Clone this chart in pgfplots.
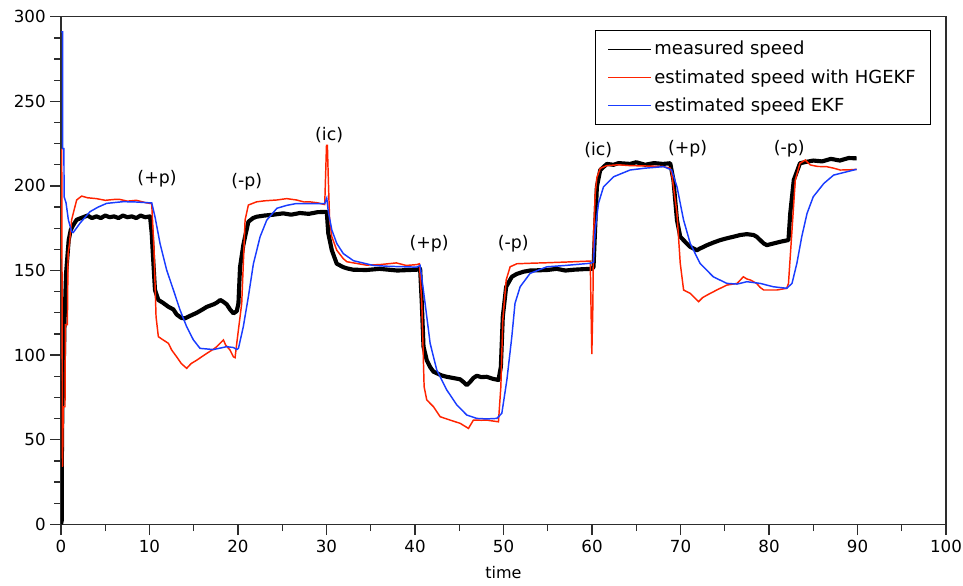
\documentclass[border=0pt]{standalone}
\usepackage{fontspec}
\setmainfont{DejaVu Sans}
\usepackage{pgfplots}
\usepackage{pgfplotstable}
\pgfplotsset{compat=1.18}
\definecolor{myred}{RGB}{255,35,0}
\definecolor{myblue}{RGB}{25,60,255}
\definecolor{axgray}{RGB}{45,45,45}

\pgfplotstableread{
t v
0 0
0.08 2
0.1 40
0.15 69
0.3 90
0.4 120
0.57 148
0.75 160
0.87 168
1.1 174
1.4 177
1.77 180
2.5 181.5
3 182.5
3.5 181
4 182
4.5 181
5 182.5
5.5 181.5
6 182
6.5 181
7 182.5
7.5 181.5
8 182
8.5 181
9 182.5
9.5 181.5
10.06 182
10.25 172
10.4 158
10.62 138.5
11.0 132.6
11.5 131
12.13 128.6
12.7 127
13.07 124
13.6 122
14.0 121.7
14.5 123
15.33 125
16 127
16.46 128.5
17.22 130
17.6 131
18.0 132.6
18.35 131.5
18.73 130
19.1 127
19.48 124.7
19.86 126
20.05 130.6
20.23 152
20.6 165
20.8 170
21.17 178.8
21.7 181
22.1 181.8
23 182.5
24 183
25.1 183.8
26 183
27 184
28 183.5
29 184.5
30.03 184.7
30.2 172
30.6 162
31.16 154
31.9 152
32.3 151.3
33 150.5
34.5 150.3
36 151
38 150
40.2 150.5
40.58 151
40.77 130.6
40.96 105
41.33 97
41.7 93
42.09 90.2
43 88
43.59 87.2
44.3 86.5
45.1 85.7
45.5 84
45.85 82.3
46.2 84
46.6 86.5
46.98 87.8
47.5 87
48.1 87.2
48.8 86
49.43 85.3
49.7 93
49.92 122.7
50.3 140.4
50.94 146.3
51.5 148
52.26 149.3
53 150
54.9 150.3
56 151
57 150
58 150.5
59 150.8
59.98 151
60.17 152
60.36 175.9
60.55 199.5
60.93 209.4
61.68 213
62.43 212.5
63 213.5
64.3 213
65 214
66 212.5
67 213.5
68 213
68.84 213.4
69.2 203.5
69.6 179.8
69.97 170
70.7 166
71.1 164
71.85 162
72.2 163
73.0 165
73.7 166.5
74.5 168
75.2 169
76 170
76.75 171
77.5 171.5
78.25 171
78.6 170
79.0 168
79.4 166
79.76 165
80.5 166
81.27 167
82.2 168
82.4 183.8
82.8 203.5
83.5 213.4
84 214
85.0 215
86 214.5
87 216
88 215
89 216.5
89.9 216.3
}\measured

\pgfplotstableread{
t v
0.08 222
0.17 34
0.26 69.5
0.45 69.5
0.5 118
0.72 118
0.8 160
0.94 165
1.2 180
1.77 191.7
2.33 194
3 193
4 192.5
5 191.5
6 192
6.67 192
7.5 191
8.5 191.5
9.68 190
10.25 189.5
10.51 162
10.74 122.7
11.0 110.9
11.57 108.9
12.13 107
12.51 103
13.07 99
13.6 95
14.2 92.2
14.7 95
15.33 97
16.46 101
17.22 103.5
17.6 105
18.35 109
18.6 106
19.1 103
19.48 99
19.67 98.5
19.86 107
20.05 115
20.42 130.6
20.8 179.8
21.17 188.7
22.1 190.6
23 191.2
24.4 191.7
25.5 192.5
26.6 191.7
27.5 190.5
28.1 190.6
29 190
29.8 189
30.0 224
30.1 224
30.2 205
30.35 180
30.6 170
31.16 162
31.9 157
32.3 155.2
34.5 153.2
36 153.5
37.9 154.5
39 153
40.2 153.5
40.5 154
40.77 130.6
41.03 81.3
41.33 73.5
42.09 69.5
42.84 63.6
43.97 61.6
45.1 59.7
46.04 56.7
46.6 61.6
47.5 61.5
48.1 61.6
49.43 60.6
49.7 81.3
49.92 120.7
50.3 144.4
50.75 152.2
51.5 154
53 154.3
54.9 154.6
57 155
59.8 155.6
59.98 100.6
60.1 130
60.17 170
60.36 195
60.55 205
60.93 210.4
61.68 212
63 212.5
64.3 212
66 211.8
68 211.5
68.84 210.5
69.0 207.4
69.6 183.8
69.97 154.3
70.35 138.5
71.1 136.5
72.04 131.6
72.5 134
73.0 135.5
74.1 138.5
75.24 141.4
76.4 142.4
77.1 146.3
77.5 145
77.9 144.4
78.6 142.4
79.0 140
79.4 138.5
80.9 138.5
82.0 139.5
82.2 142.4
82.6 174
82.97 203.5
83.5 213.4
84.1 215.3
84.66 212.4
85.5 211.5
86.5 211.4
87.3 210.5
88.05 209.4
89 209.5
89.9 209.8
}\hgekf

\pgfplotstableread{
t v
0.05 291
0.18 291
0.19 222
0.33 222
0.35 193.6
0.57 190
0.83 180
1.2 173
1.39 172.5
2.15 178
3.28 184.8
4.2 187.5
5.16 189.7
7.04 190.7
8.5 190.5
10.06 190
10.25 190
10.62 181.8
11.19 166
11.94 150.3
12.7 138.5
13.45 126.7
14.2 116.8
14.96 109
15.71 104
17.22 103.3
18.73 105
19.48 104.5
19.86 103.3
20.05 104
20.6 116.8
21.17 134.5
21.74 154
22.5 170
23.25 179.8
24.4 186.8
25.5 188.5
26.6 189.6
28 189.5
29.8 189.6
30.03 192.8
30.2 185
30.6 174
31.16 166
31.9 160
33.05 155.8
35.3 153
37 152.5
40.2 152
40.58 153
41.14 130.6
41.71 107
42.46 91.2
43.59 79.4
44.72 70.6
45.85 64.6
46.98 62.6
48.1 62.3
49.25 62.6
49.81 65.6
50.38 85.3
50.94 110.9
51.3 130.6
51.88 140.4
53.0 148.3
54.9 152.2
57 153
59.8 154.3
60.17 155
60.36 174
60.73 189.7
61.3 199.5
62.43 205.4
64.3 209.4
66 210.5
68.1 211.4
69.0 209.4
69.6 199.5
70.35 179.8
71.1 166
72.2 154.3
73.7 146.3
75.24 142.4
76.4 142
77.5 143.4
79.0 142.4
80.5 140.4
82.0 139.5
82.6 142.4
83.15 154.3
83.7 170
84.3 183.8
85.0 193.6
86.2 201.5
87.3 206.4
88.8 208.4
89.9 209.8
}\ekf

\begin{document}
\begin{tikzpicture}
\begin{axis}[
  scale only axis, width=663.75pt, height=380.7pt,
  xmin=0, xmax=100, ymin=0, ymax=300,
  xtick={0,10,...,100}, ytick={0,50,...,300},
  minor x tick num=1, minor y tick num=3,
  tick align=outside, xtick pos=bottom, ytick pos=left,
  major tick length=8pt, minor tick length=5pt,
  axis line style={axgray, line width=1pt},
  every tick/.style={axgray, line width=1pt},
  /pgf/number format/assume math mode=true,
  ticklabel style={font=\fontsize{12.5}{15}\selectfont},
  xlabel={time},
  xlabel style={at={(axis description cs:0.5,0)}, anchor=base, yshift=-40.3pt, font=\fontsize{12}{14}\selectfont},
  legend cell align=left,
  legend image code/.code={\draw[#1] (0pt,0pt) -- (32pt,0pt);},
  legend style={at={(1,1)}, anchor=north east, xshift=-11.25pt, yshift=-10pt,
    draw=black, line width=0.8pt, font=\fontsize{13.5}{16}\selectfont,
    inner xsep=9pt, inner ysep=6pt, row sep=5.5pt},
  clip=true,
]
\addlegendimage{black, line width=0.9pt}
\addlegendentry{measured speed}
\addlegendimage{myred, line width=0.9pt}
\addlegendentry{estimated speed with HGEKF}
\addlegendimage{myblue, line width=0.9pt}
\addlegendentry{estimated speed EKF}

\addplot[black, line width=3.1pt, line join=round, forget plot] table[x=t, y=v] {\measured};
\addplot[myred, line width=1.1pt, forget plot] table[x=t, y=v] {\hgekf};
\addplot[myblue, line width=1.1pt, forget plot] table[x=t, y=v] {\ekf};

\node[font=\fontsize{13}{15}\selectfont] at (axis cs:10.85,204.4) {(+p)};
\node[font=\fontsize{13}{15}\selectfont] at (axis cs:21.0,202.6) {(-p)};
\node[font=\fontsize{13}{15}\selectfont] at (axis cs:30.3,229.8) {(ic)};
\node[font=\fontsize{13}{15}\selectfont] at (axis cs:41.6,166) {(+p)};
\node[font=\fontsize{13}{15}\selectfont] at (axis cs:51.1,166) {(-p)};
\node[font=\fontsize{13}{15}\selectfont] at (axis cs:60.7,221) {(ic)};
\node[font=\fontsize{13}{15}\selectfont] at (axis cs:70.8,221.8) {(+p)};
\node[font=\fontsize{13}{15}\selectfont] at (axis cs:82.3,221.8) {(-p)};
\end{axis}
\pgfresetboundingbox
\path (current axis.south west) ++(-45.75pt,-45.5pt) rectangle ++(722.25pt,438.75pt);
\end{tikzpicture}
\end{document}
